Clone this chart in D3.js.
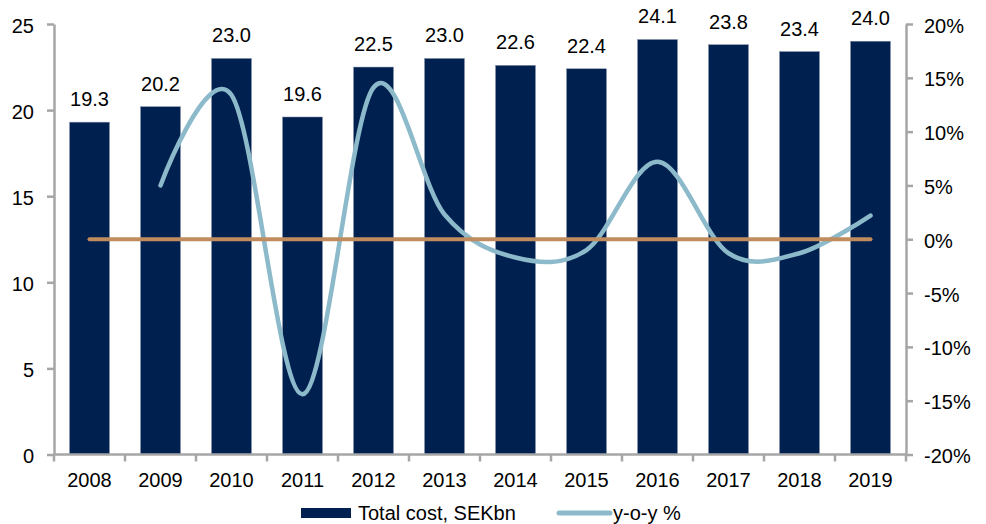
<!DOCTYPE html>
<html>
<head>
<meta charset="utf-8">
<script src="https://cdn.jsdelivr.net/npm/d3@7/dist/d3.min.js"></script>
<style>
  html, body { margin: 0; padding: 0; background: #fff; }
  svg { display: block; font-family: "Liberation Sans", Arial, sans-serif; }
</style>
</head>
<body>
<svg id="chart" width="986" height="524"></svg>
<script>
// Yearly total cost (SEK bn) and year-on-year change (%)
const years = ["2008", "2009", "2010", "2011", "2012", "2013", "2014", "2015", "2016", "2017", "2018", "2019"];
const totalCost = [19.3, 20.2, 23.0, 19.6, 22.5, 23.0, 22.6, 22.4, 24.1, 23.8, 23.4, 24.0];
const yoyYears = ["2009", "2010", "2011", "2012", "2013", "2014", "2015", "2016", "2017", "2018", "2019"];
const yoyPct = [5.0, 13.4, -14.4, 14.1, 2.3, -1.7, -1.0, 7.2, -1.3, -1.3, 2.2];
const zeroLine = years.map(() => 0);
const leftTicks = [0, 5, 10, 15, 20, 25];
const rightTicks = [-20, -15, -10, -5, 0, 5, 10, 15, 20];
const legendLabels = ["Total cost, SEKbn", "y-o-y %"];

const C = {
  bar: "#00204f",
  barEdge: "#8996ad",
  yoy: "#8dbacb",
  zero: "#c08c5e",
  axis: "#a6a6a6",
  text: "#000"
};

const svg = d3.select("#chart");
const plot = { left: 54, right: 906, top: 24, bottom: 454.5 };

const x = d3.scaleBand()
  .domain(years)
  .range([plot.left, plot.right])
  .paddingInner(0.437)
  .paddingOuter(0.2185);
const cx = d => x(d) + x.bandwidth() / 2;

const yL = d3.scaleLinear().domain([0, 25]).range([plot.bottom, plot.top]);
const yR = d3.scaleLinear().domain([-20, 20]).range([plot.bottom, plot.top]);

// bars
svg.append("g").selectAll("rect")
  .data(years.map((y, i) => ({ year: y, v: totalCost[i] })))
  .join("rect")
  .attr("x", d => x(d.year))
  .attr("y", d => yL(d.v))
  .attr("width", x.bandwidth())
  .attr("height", d => yL(0) - yL(d.v))
  .attr("fill", C.bar)
  .attr("stroke", C.barEdge)
  .attr("stroke-width", 0.5);

// value labels above the bars
svg.append("g").selectAll("text")
  .data(years.map((y, i) => ({ year: y, v: totalCost[i] })))
  .join("text")
  .attr("x", d => cx(d.year))
  .attr("y", d => yL(d.v) - 16)
  .attr("text-anchor", "middle")
  .attr("font-size", 20)
  .attr("fill", C.text)
  .text(d => d.v.toFixed(1));

// y-o-y smoothed line
const line = d3.line()
  .x(d => cx(d.year))
  .y(d => yR(d.v))
  .curve(d3.curveCardinal.tension(0));

svg.append("path")
  .datum(yoyYears.map((y, i) => ({ year: y, v: yoyPct[i] })))
  .attr("d", line)
  .attr("fill", "none")
  .attr("stroke", C.yoy)
  .attr("stroke-width", 4.5)
  .attr("stroke-linecap", "round")
  .attr("stroke-linejoin", "round");

// zero reference line
svg.append("path")
  .datum(years.map((y, i) => ({ year: y, v: zeroLine[i] })))
  .attr("d", d3.line().x(d => cx(d.year)).y(d => yR(d.v)))
  .attr("fill", "none")
  .attr("stroke", C.zero)
  .attr("stroke-width", 4)
  .attr("stroke-linecap", "round");

function styleAxis(g) {
  g.selectAll(".domain, .tick line").attr("stroke", C.axis).attr("stroke-width", 2.5);
  g.selectAll("text").attr("font-size", 20).attr("fill", C.text)
    .attr("font-family", "Liberation Sans, Arial, sans-serif");
}

// left axis
svg.append("g")
  .attr("transform", `translate(${plot.left},0)`)
  .call(d3.axisLeft(yL).tickValues(leftTicks).tickSize(7).tickSizeOuter(0).tickPadding(13))
  .call(styleAxis)
  .call(g => g.selectAll("text").attr("dy", "0.4em"));

// right axis
svg.append("g")
  .attr("transform", `translate(${plot.right},0)`)
  .call(d3.axisRight(yR).tickValues(rightTicks).tickSize(7).tickSizeOuter(0).tickPadding(11)
    .tickFormat(d => d + "%"))
  .call(styleAxis)
  .call(g => g.selectAll("text").attr("dy", "0.4em"));

// bottom axis: labels centred, ticks between categories
const xAxis = svg.append("g")
  .attr("transform", `translate(0,${plot.bottom})`)
  .call(d3.axisBottom(x).tickSize(0).tickSizeOuter(0).tickPadding(18))
  .call(styleAxis);
xAxis.select(".domain").remove();
const edges = d3.range(years.length + 1).map(i => plot.left + i * x.step());
xAxis.append("line")
  .attr("x1", plot.left).attr("x2", plot.right)
  .attr("stroke", C.axis).attr("stroke-width", 2.5);
xAxis.selectAll(".edge")
  .data(edges)
  .join("line")
  .attr("class", "edge")
  .attr("x1", d => d).attr("x2", d => d)
  .attr("y1", 0).attr("y2", 7)
  .attr("stroke", C.axis).attr("stroke-width", 2.5);

// legend
const lg = svg.append("g").attr("transform", "translate(0,513)");
lg.append("rect").attr("x", 301).attr("y", -5).attr("width", 50).attr("height", 10).attr("fill", C.bar);
lg.append("text").attr("x", 358).attr("y", 7).attr("font-size", 20).attr("fill", C.text).text(legendLabels[0]);
lg.append("line").attr("x1", 559).attr("x2", 610).attr("y1", 0).attr("y2", 0)
  .attr("stroke", C.yoy).attr("stroke-width", 5).attr("stroke-linecap", "round");
lg.append("text").attr("x", 613).attr("y", 7).attr("font-size", 20).attr("fill", C.text).text(legendLabels[1]);
</script>
</body>
</html>
